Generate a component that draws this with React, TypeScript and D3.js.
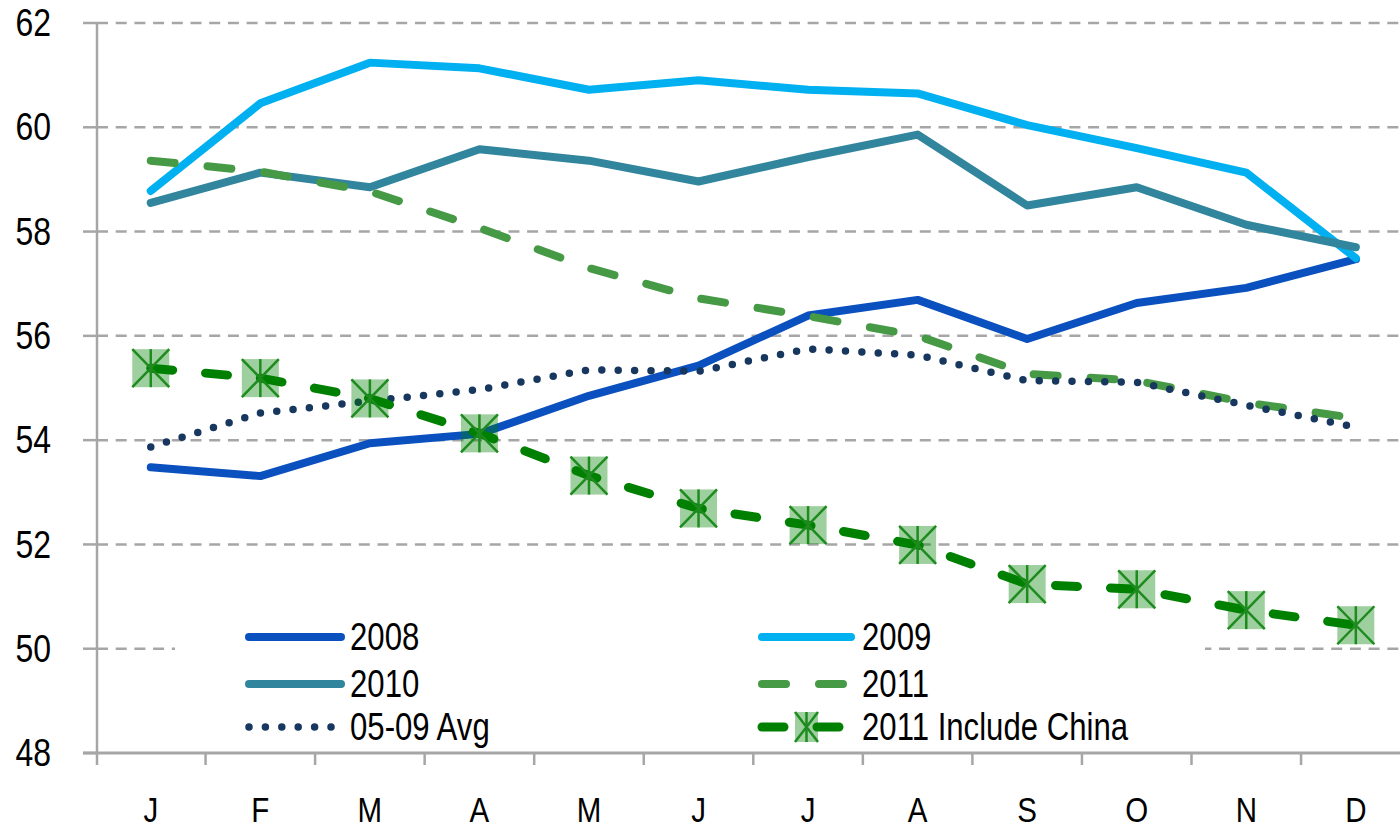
import * as d3 from 'd3';

const months = ['J', 'F', 'M', 'A', 'M', 'J', 'J', 'A', 'S', 'O', 'N', 'D'];
const yTicks = [48, 50, 52, 54, 56, 58, 60, 62];

const s2008 = [53.48, 53.31, 53.94, 54.12, 54.85, 55.43, 56.39, 56.69, 55.94, 56.63, 56.92, 57.47];
const s2009 = [58.78, 60.46, 61.24, 61.13, 60.72, 60.9, 60.72, 60.65, 60.04, 59.6, 59.13, 57.49];
const s2010 = [58.55, 59.13, 58.85, 59.58, 59.36, 58.96, 59.43, 59.86, 58.5, 58.85, 58.13, 57.7];
const s2011 = [59.36, 59.15, 58.77, 58.07, 57.3, 56.72, 56.38, 56.0, 55.27, 55.14, 54.72, 54.42];
const avg0509 = [53.87, 54.52, 54.75, 54.97, 55.35, 55.32, 55.75, 55.63, 55.14, 55.11, 54.67, 54.25];
const china2011 = [55.38, 55.19, 54.8, 54.13, 53.32, 52.69, 52.37, 51.99, 51.24, 51.14, 50.74, 50.45];

const FONT = '"Liberation Sans", Arial, sans-serif';
const GRID = '#A6A6A6';
const SQUEEZE = 0.82; // narrow look of the original labels

const series = [
  { name: '2008', values: s2008, color: '#0A50BE', width: 8, dash: null },
  { name: '2009', values: s2009, color: '#00B0F0', width: 8, dash: null },
  { name: '2010', values: s2010, color: '#31859C', width: 8, dash: null },
  { name: '2011', values: s2011, color: '#479A45', width: 8, dash: '24 33' },
  { name: '05-09 Avg', values: avg0509, color: '#17375E', width: 7.5, dash: '0 16.4' },
  { name: '2011 Include China', values: china2011, color: '#008000', width: 9, dash: '22 33', marker: true },
];

const Label = ({ x, y, anchor, size, children }: { x: number; y: number; anchor?: string; size: number; children: any }) => (
  <g transform={`translate(${x},${y}) scale(${SQUEEZE},1)`}>
    <text
      textAnchor={anchor ?? 'start'}
      dominantBaseline="central"
      fontFamily={FONT}
      fontSize={size}
      fill="#000"
    >
      {children}
    </text>
  </g>
);

const Marker = ({ cx, cy, w, h }: { cx: number; cy: number; w: number; h: number }) => (
  <g>
    <rect x={cx - w / 2} y={cy - h / 2} width={w} height={h} fill="#008000" fillOpacity={0.38} />
    <line x1={cx - w / 2} y1={cy - h / 2} x2={cx + w / 2} y2={cy + h / 2} stroke="#1E8B1E" strokeWidth={2.5} />
    <line x1={cx + w / 2} y1={cy - h / 2} x2={cx - w / 2} y2={cy + h / 2} stroke="#1E8B1E" strokeWidth={2.5} />
    <line x1={cx} y1={cy - h / 2} x2={cx} y2={cy + h / 2} stroke="#1E8B1E" strokeWidth={2.5} />
  </g>
);

export default function App() {
  const width = 1400;
  const height = 831;

  const x = d3
    .scaleBand<string>()
    .domain(months.map((_, i) => String(i)))
    .range([96, 1410.6])
    .padding(0);
  const bw = x.bandwidth();
  const cx = (i: number) => (x(String(i)) as number) + bw / 2;

  const y = d3.scaleLinear().domain([48, 62]).range([753, 23]);

  const line = d3
    .line<number>()
    .x((_, i) => cx(i))
    .y((d) => y(d));

  // legend layout
  const legendRows = [637, 684, 727];
  const legendCols = [
    { x1: 246, x2: 344, tx: 350 },
    { x1: 759, x2: 854, tx: 862 },
  ];

  return (
    <svg
      width={width}
      height={height}
      style={{ position: 'absolute', left: 0, top: 0, background: '#fff' }}
    >
      {/* gridlines */}
      {yTicks
        .filter((v) => v > 48)
        .map((v) => (
          <line
            key={'g' + v}
            x1={97}
            x2={width}
            y1={y(v)}
            y2={y(v)}
            stroke={GRID}
            strokeWidth={2.5}
            strokeDasharray="11 7.7"
          />
        ))}

      {/* y axis */}
      <line x1={97} x2={97} y1={y(62)} y2={765} stroke={GRID} strokeWidth={2.5} />
      {yTicks.map((v) => (
        <g key={'yt' + v}>
          <line x1={83} x2={97} y1={y(v)} y2={y(v)} stroke={GRID} strokeWidth={2.5} />
          <Label x={51} y={y(v)} anchor="end" size={39}>
            {v}
          </Label>
        </g>
      ))}

      {/* x axis */}
      <line x1={83} x2={width} y1={y(48)} y2={y(48)} stroke={GRID} strokeWidth={2.8} />
      {months.map((m, i) => (
        <g key={'xt' + i}>
          {i > 0 && (
            <line
              x1={x(String(i)) as number}
              x2={x(String(i)) as number}
              y1={y(48)}
              y2={765}
              stroke={GRID}
              strokeWidth={2.5}
            />
          )}
          <Label x={cx(i)} y={809} anchor="middle" size={36}>
            {m}
          </Label>
        </g>
      ))}

      {/* legend background */}
      <rect x={175} y={612} width={1030} height={135} fill="#fff" />

      {/* series */}
      {series.map((s) => (
        <path
          key={s.name}
          d={line(s.values) as string}
          fill="none"
          stroke={s.color}
          strokeWidth={s.width}
          strokeLinecap="round"
          strokeLinejoin="round"
          strokeDasharray={s.dash ?? undefined}
        />
      ))}
      {china2011.map((v, i) => (
        <Marker key={'m' + i} cx={cx(i)} cy={y(v)} w={37} h={38} />
      ))}

      {/* legend */}
      {series.map((s, i) => {
        const col = legendCols[i % 2];
        const ry = legendRows[Math.floor(i / 2)];
        return (
          <g key={'lg' + s.name}>
            <line
              x1={col.x1 + 3}
              x2={col.x2 - 3}
              y1={ry}
              y2={ry}
              stroke={s.color}
              strokeWidth={s.width}
              strokeLinecap="round"
              strokeDasharray={s.dash ?? undefined}
            />
            {s.marker && <Marker cx={(col.x1 + col.x2) / 2} cy={ry} w={23} h={30} />}
            <Label x={col.tx} y={ry} size={38}>
              {s.name}
            </Label>
          </g>
        );
      })}
    </svg>
  );
}
